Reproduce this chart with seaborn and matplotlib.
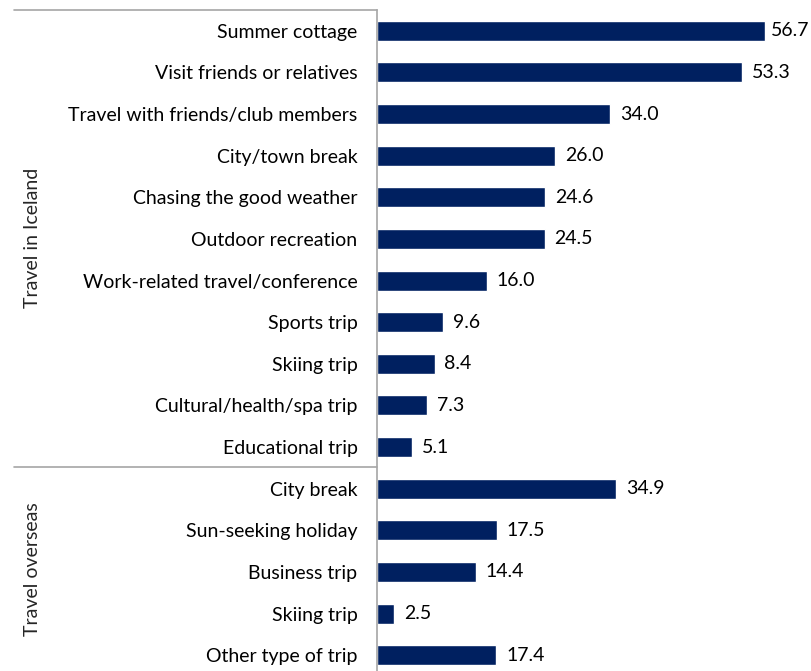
import matplotlib
matplotlib.use("Agg")
import matplotlib.pyplot as plt
import seaborn as sns
import pandas as pd

groups = ["Travel in Iceland"] * 11 + ["Travel overseas"] * 5
labels = ["Summer cottage", "Visit friends or relatives", "Travel with friends/club members",
          "City/town break", "Chasing the good weather", "Outdoor recreation",
          "Work-related travel/conference", "Sports trip", "Skiing trip",
          "Cultural/health/spa trip", "Educational trip",
          "City break", "Sun-seeking holiday", "Business trip", "Skiing trip", "Other type of trip"]
values = [56.7, 53.3, 34.0, 26.0, 24.6, 24.5, 16.0, 9.6, 8.4, 7.3, 5.1,
          34.9, 17.5, 14.4, 2.5, 17.4]

df = pd.DataFrame({"group": groups, "label": labels, "value": values})
df["key"] = [f"{g}|{l}" for g, l in zip(groups, labels)]

sns.set_style("white")
plt.rcParams["font.family"] = ["Lato", "DejaVu Sans"]
FS = 14

fig = plt.figure(figsize=(8.11, 6.71), dpi=100)
ax = fig.add_axes([377/811, 0.0, 1 - 377/811, 1 - 10/671])

sns.barplot(data=df, y="key", x="value", order=list(df["key"]), color="#002060",
            width=0.48, orient="h", ax=ax, saturation=1)

XMAX = 63.4
ax.set_xlim(0, XMAX)
ax.set_ylim(15.38, -0.5)
ax.set_yticks(range(len(labels)))
ax.set_yticklabels(labels, fontsize=FS, color="#000000")
ax.tick_params(axis="y", length=0, pad=14)
ax.set_xticks([])
ax.set_xlabel("")
ax.set_ylabel("")
for s in ["top", "right", "bottom"]:
    ax.spines[s].set_visible(False)
ax.spines["left"].set_color("#A6A6A6")
ax.spines["left"].set_linewidth(1.2)

for i, v in enumerate(values):
    if v + 1.45 + 5.8 > XMAX:
        ax.text(XMAX - 0.3, i, f"{v:.1f}", va="center", ha="right", fontsize=FS, color="#000000")
    else:
        ax.text(v + 1.45, i, f"{v:.1f}", va="center", ha="left", fontsize=FS, color="#000000")

# group separators (figure coords)
line_col = "#A6A6A6"
x0, x1 = 14/811, 377/811
for ypix in [10, 467]:
    yf = 1 - ypix/671
    fig.add_artist(plt.Line2D([x0, x1], [yf, yf], color=line_col, lw=1.2))

fig.text(33/811, 1 - 238/671, "Travel in Iceland", rotation=90, ha="center", va="center", fontsize=FS)
fig.text(33/811, 1 - 569/671, "Travel overseas", rotation=90, ha="center", va="center", fontsize=FS)

fig.savefig("out.png", dpi=100)
